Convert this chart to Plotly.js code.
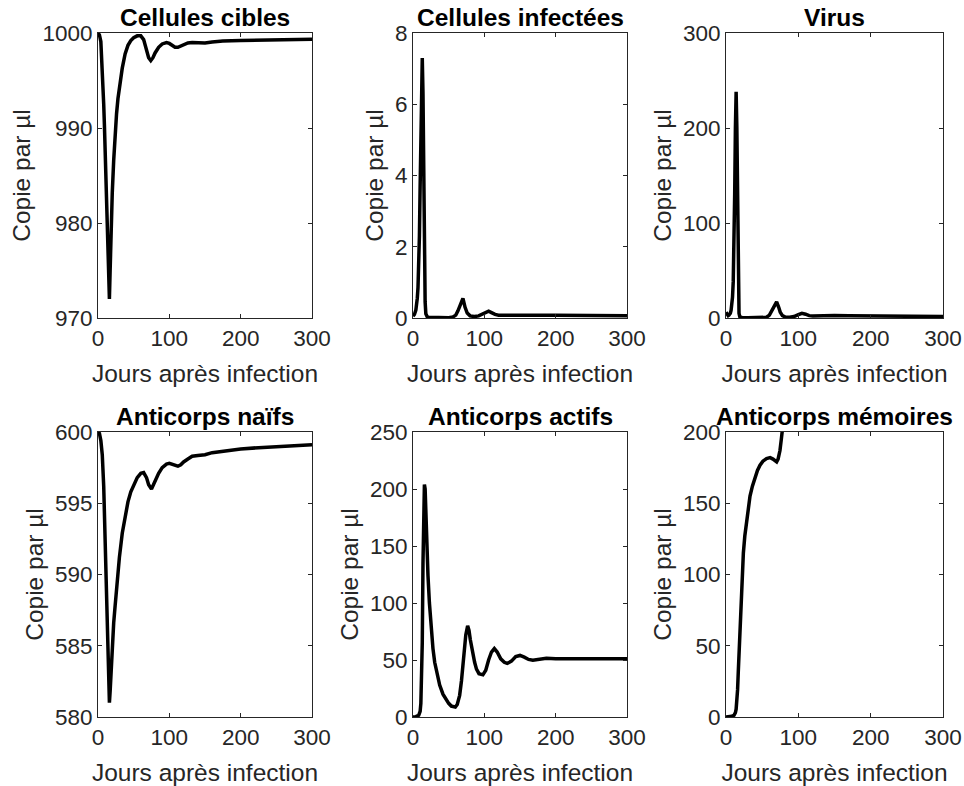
<!DOCTYPE html>
<html>
<head>
<meta charset="utf-8">
<script src="https://cdn.plot.ly/plotly-3.0.1.min.js"></script>
<style>html,body{margin:0;padding:0;background:#fff;}#chart{width:964px;height:786px;}</style>
</head>
<body>
<div id="chart"></div>
<script>
// ---- Data ----
var titles = ["Cellules cibles", "Cellules infectées", "Virus", "Anticorps naïfs", "Anticorps actifs", "Anticorps mémoires"];
var xLabel = "Jours après infection";
var yLabel = "Copie par µl";

var tCibles = [0,2,4,6,8,9,10,11,12,13,14,15,16,17,18,19,20,22,24,26,28,30,34,38,42,46,50,55,60,64,68,71,74,77,80,85,90,96,100,104,108,112,116,120,126,132,140,150,160,175,200,225,250,275,300];
var vCibles = [1000,999.8,999.1,996.3,992.5,990.3,987.5,984.5,981.2,977.8,974.8,972.5,972.0,975.0,978.6,981.2,983.2,986.6,989.4,991.5,993.1,994.3,996.3,997.8,998.7,999.2,999.5,999.7,999.7,999.3,998.3,997.4,997.1,997.4,997.9,998.5,998.85,999.0,998.9,998.65,998.5,998.5,998.65,998.8,998.95,999.0,998.95,998.95,999.05,999.15,999.2,999.25,999.3,999.33,999.35];

var tInfect = [0,2,4,5,6,7,8,9,10,11,12,13,14,15,16,17,18,20,22,30,40,50,56,60,63,66,70,73,76,80,86,92,98,102,106,110,115,120,130,140,150,170,200,250,300];
var vInfect = [0.05,0.1,0.22,0.35,0.55,0.85,1.4,2.3,3.7,5.1,6.5,7.3,6.3,4.0,1.6,0.45,0.12,0.03,0.02,0.01,0.01,0.01,0.03,0.08,0.2,0.38,0.55,0.3,0.14,0.06,0.04,0.06,0.12,0.17,0.19,0.15,0.1,0.08,0.08,0.1,0.1,0.09,0.08,0.07,0.06];

var tVirus = [0,1,2,3,4,6,7,8,9,10,11,12,13,14,15,16,17,18,19,20,22,30,50,56,60,63,66,70,73,75,78,82,88,94,100,105,110,115,120,130,140,150,170,200,250,300];
var vVirus = [6,5,3,2.5,3,5,8,14,22,38,70,130,200,238,200,100,28,5,1.5,0.7,0.4,0.2,0.2,0.8,3,7,12,17,11,6,2.5,1.0,0.8,1.5,3.5,5,4,2.5,2,2.3,2.8,2.7,2.4,2.2,1.8,1.5];

var tNaifs = [0,2,4,6,8,9,10,11,12,13,14,15,16,17,18,19,20,22,24,26,28,30,34,38,42,46,50,55,60,64,68,71,75,80,85,90,96,100,104,108,112,116,120,126,132,140,150,160,175,200,225,250,275,300];
var vNaifs = [600,599.9,599.4,598.4,596.2,594.3,592.3,590.2,588.1,586.1,584.1,582.2,581.0,581.8,583.0,584.2,585.1,586.6,587.8,589.1,590.3,591.2,592.9,594.2,595.1,595.8,596.3,596.8,597.1,597.15,596.8,596.3,596.0,596.6,597.1,597.5,597.75,597.8,597.75,597.65,597.6,597.7,597.9,598.1,598.3,598.35,598.4,598.55,598.65,598.8,598.9,598.97,599.05,599.1];

var tActifs = [0,4,8,10,11,12,13,14,15,16,17,18,19,20,21,23,25.7,28,30.4,34,37.4,42,46.7,50,53.7,59.3,62,65.4,68,70,72,74,76.6,78.5,80.3,83,86.4,89,92.5,98,102,106,110,114,118,123,128,132,138,144,150,156,162,168,175,187,200,220,250,300];
var vActifs = [0,0.3,1.5,5,12,30,65,135,185,204,200,178,158,140,124,100,74,60,48,36,28,20,14.6,12,9.6,8.7,11,19,32,48,62,72,80,76,68,57,48,42,38,37,41,50,57,60,57,51,48,47,49,53,54,52.5,50.5,49.8,50.5,51.6,51,51.2,51,51];

var tMemoires = [0,4,8,11,13,14,15,16,17,18,19,20,21,22,24,26,28.6,31,33.2,36.5,40,43.5,47,51,56,61,65,68,70,72,74.6,76.5,78.3,80,85,90,100,120];
var vMemoires = [0,0.2,0.5,1.2,3,5.5,10,19,32,45,63,78,90,99,115,127,138,147,155,162,168.6,173,176.7,179.5,181.4,182,181,179.5,179,181,187,195,201,208,230,255,300,360];

var xTicks = [0,100,200,300];
var yRanges = [[970,1000],[0,8],[0,300],[580,600],[0,250],[0,200]];
var yDticks = [10,2,100,5,50,50];

// ---- Build figure ----
var seriesT = [tCibles,tInfect,tVirus,tNaifs,tActifs,tMemoires];
var seriesV = [vCibles,vInfect,vVirus,vNaifs,vActifs,vMemoires];
var W = 964, H = 786;
var colPx = [[98,312],[413,627],[726,943]];
var rowPx = [[33,318],[432,717]];
var font = "Liberation Sans, Arial, Helvetica, sans-serif";
var axColor = "#262626";

var traces = [];
var layout = {
  width: W, height: H,
  margin: {l:0, r:0, t:0, b:0},
  paper_bgcolor: "#fff", plot_bgcolor: "#fff",
  showlegend: false,
  font: {family: font, color: axColor},
  annotations: []
};

for (var i = 0; i < 6; i++) {
  var r = Math.floor(i/3), c = i % 3;
  var sfx = i === 0 ? "" : String(i+1);
  traces.push({
    x: seriesT[i], y: seriesV[i], type: "scatter", mode: "lines",
    line: {color: "#000", width: 3.5},
    xaxis: "x" + sfx, yaxis: "y" + sfx, hoverinfo: "x+y"
  });
  var xd = [colPx[c][0]/W, colPx[c][1]/W];
  var yd = [1 - rowPx[r][1]/H, 1 - rowPx[r][0]/H];
  layout["xaxis" + sfx] = {
    domain: xd, anchor: "y" + sfx, range: [0,300],
    tickvals: xTicks, ticks: "inside", ticklen: 4, tickcolor: axColor,
    showline: true, linecolor: axColor, linewidth: 1, mirror: "ticks",
    showgrid: false, zeroline: false,
    tickfont: {family: font, size: 22.5, color: axColor},
    title: {text: xLabel, font: {family: font, size: 24.5, color: axColor}, standoff: 14}
  };
  layout["yaxis" + sfx] = {
    domain: yd, anchor: "x" + sfx, range: yRanges[i],
    dtick: yDticks[i], tick0: 0, ticks: "inside", ticklen: 4, tickcolor: axColor,
    showline: true, linecolor: axColor, linewidth: 1, mirror: "ticks",
    showgrid: false, zeroline: false,
    tickfont: {family: font, size: 22.5, color: axColor},
    title: {text: yLabel, font: {family: font, size: 24.5, color: axColor}, standoff: 4}
  };
  layout.annotations.push({
    text: "<b>" + titles[i] + "</b>", xref: "paper", yref: "paper",
    x: (xd[0]+xd[1])/2, y: yd[1], xanchor: "center", yanchor: "bottom",
    showarrow: false, yshift: 0,
    font: {family: font, size: 24.5, color: "#000"}
  });
}

Plotly.newPlot("chart", traces, layout, {displayModeBar: false, staticPlot: true});
</script>
</body>
</html>
